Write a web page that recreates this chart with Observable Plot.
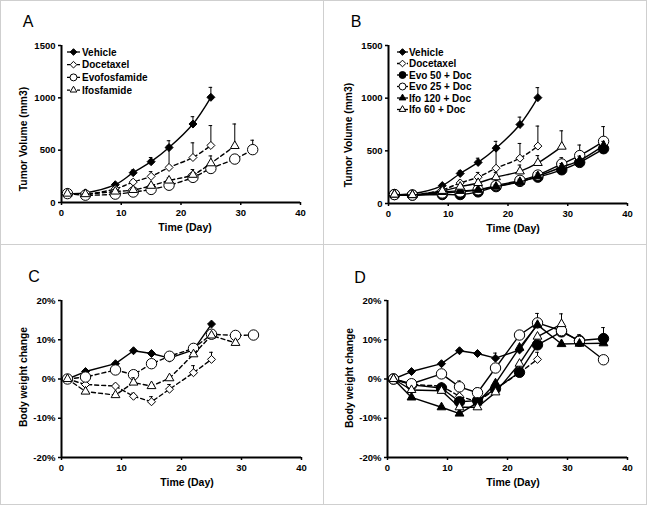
<!DOCTYPE html>
<html><head><meta charset="utf-8">
<script src="https://cdn.jsdelivr.net/npm/d3@7"></script>
<script src="https://cdn.jsdelivr.net/npm/@observablehq/plot@0.6"></script>
<style>
body{margin:0;background:#fff;}
#fig{position:relative;width:648px;height:506px;overflow:hidden;font-family:"Liberation Sans",Arial,sans-serif;}
.cell{position:absolute;}
.ln{position:absolute;background:#cfcfcf;z-index:3;}
</style></head><body><div id="fig"></div>
<script>
// ---------- DATA ----------
const days8 = [1,4,9,12,15,18,22,25];
const days9 = [1,4,9,12,15,18,22,25,29];
const days10 = [1,4,9,12,15,18,22,25,29,32];
const days11 = [1,4,9,12,15,18,22,25,29,32,36];

// Tumor volume (mm3)
const tvVehicle = [85,92,170,285,390,525,750,1005];
const tvVehicleErr = [0,0,12,25,40,20,70,95];
const tvDocetaxel = [85,80,130,195,250,335,430,545];
const tvDocetaxelErr = [0,0,10,25,45,255,140,190];
const tvEvofosfamide = [85,70,80,100,125,165,240,325,415,505];
const tvEvofosfamideErr = [0,0,0,10,10,15,20,25,35,90];
const tvIfosfamide = [85,80,105,120,160,210,265,375,540];
const tvIfosfamideErr = [0,0,0,15,20,25,50,70,210];
const tvEvo50Doc = [85,80,85,85,110,160,210,250,320,390,520];
const tvEvo50DocErr = [0,0,0,0,0,10,15,20,25,30,40];
const tvEvo25Doc = [85,80,100,110,130,170,220,270,375,455,590];
const tvEvo25DocErr = [0,0,0,10,15,20,25,30,60,100,140];
const tvIfo120Doc = [85,80,110,120,130,160,205,260,345,410,550];
const tvIfo120DocErr = [0,0,0,10,15,20,25,30,35,40,40];
const tvIfo60Doc = [85,80,120,160,195,250,305,385,540];
const tvIfo60DocErr = [0,0,10,20,30,45,60,70,150];

// Body weight change (%)
const bwVehicle = [0,1.9,3.9,7.2,6.5,5.3,7.4,14.0];
const bwVehicleErr = [0,0,0,0,0,1.3,0,0];
const bwDocetaxel = [0,-1.4,-1.8,-4.4,-5.8,-2.6,1.6,5.0];
const bwDocetaxelErr = [0,0,0.5,0.8,1.3,1.2,1.8,1.8];
const bwEvofosfamide = [0,0.5,2.3,1.1,3.9,5.8,7.8,11.4,11.1,11.2];
const bwEvofosfamideErr = [0,0,0,0,0,0,0,0,0,0];
const bwIfosfamide = [0,-3.2,-4.1,-0.9,-1.8,0.2,6.3,11.1,9.2];
const bwIfosfamideErr = [0,0,0,1.2,0,0,0,0,0];
const bwEvo50Doc = [0,-1.5,-2.3,-5.8,-5.5,-2.5,1.7,8.7,12.0,9.8,10.3];
const bwEvo50DocErr = [0,0,0,0,0,0,0,0,0,1.5,2.8];
const bwEvo25Doc = [0,-1.2,1.3,-2.0,-3.5,2.8,11.2,14.3,12.3,9.6,4.9];
const bwEvo25DocErr = [0,0,0,1.5,1.2,0,0,2.4,0,0,0];
const bwIfo120Doc = [0,-4.7,-7.2,-8.8,-6.0,-1.1,8.0,13.8,8.9,9.0,9.1];
const bwIfo120DocErr = [0,0,0,0,0,0,0,0,0,0,0];
const bwIfo60Doc = [0,-2.8,-3.0,-7.2,-7.2,-3.4,3.9,10.8,14.0,9.9,9.6];
const bwIfo60DocErr = [0,0,1.0,0,0,0,0,0,2.6,0,0];

const xTicks = [0,10,20,30,40];
const tvTicks = [0,500,1000,1500];
const bwTicks = [-20,-10,0,10,20];

// ---------- STYLE ----------
const FONT = "Liberation Sans, Arial, sans-serif";
const ST = {
  vehicle:{sym:"diamond2", fill:"#000", dash:false, r:3.6},
  doce:{sym:"diamond2", fill:"#fff", dash:true, r:3.6},
  openCircDash:{sym:"circle", fill:"#fff", dash:true, r:5.2},
  openTriDash:{sym:"triangle2", fill:"#fff", dash:true, r:4.2},
  filledCirc:{sym:"circle", fill:"#000", dash:false, r:5.2},
  openCirc:{sym:"circle", fill:"#fff", dash:false, r:5.2},
  filledTri:{sym:"triangle2", fill:"#000", dash:false, r:4.2},
  openTri:{sym:"triangle2", fill:"#fff", dash:false, r:4.2}
};

const seriesA = [
  {name:"Vehicle", day:days8, val:tvVehicle, err:tvVehicleErr, st:ST.vehicle},
  {name:"Docetaxel", day:days8, val:tvDocetaxel, err:tvDocetaxelErr, st:ST.doce},
  {name:"Evofosfamide", day:days10, val:tvEvofosfamide, err:tvEvofosfamideErr, st:ST.openCircDash},
  {name:"Ifosfamide", day:days9, val:tvIfosfamide, err:tvIfosfamideErr, st:ST.openTriDash}
];
const seriesB = [
  {name:"Vehicle", day:days8, val:tvVehicle, err:tvVehicleErr, st:ST.vehicle},
  {name:"Docetaxel", day:days8, val:tvDocetaxel, err:tvDocetaxelErr, st:ST.doce},
  {name:"Evo 50 + Doc", day:days11, val:tvEvo50Doc, err:tvEvo50DocErr, st:ST.filledCirc},
  {name:"Evo 25 + Doc", day:days11, val:tvEvo25Doc, err:tvEvo25DocErr, st:ST.openCirc},
  {name:"Ifo 120 + Doc", day:days11, val:tvIfo120Doc, err:tvIfo120DocErr, st:ST.filledTri},
  {name:"Ifo 60 + Doc", day:days9, val:tvIfo60Doc, err:tvIfo60DocErr, st:ST.openTri}
];
const seriesC = [
  {name:"Vehicle", day:days8, val:bwVehicle, err:bwVehicleErr, st:ST.vehicle},
  {name:"Docetaxel", day:days8, val:bwDocetaxel, err:bwDocetaxelErr, st:ST.doce},
  {name:"Evofosfamide", day:days10, val:bwEvofosfamide, err:bwEvofosfamideErr, st:ST.openCircDash},
  {name:"Ifosfamide", day:days9, val:bwIfosfamide, err:bwIfosfamideErr, st:ST.openTriDash}
];
const seriesD = [
  {name:"Vehicle", day:days8, val:bwVehicle, err:bwVehicleErr, st:ST.vehicle},
  {name:"Docetaxel", day:days8, val:bwDocetaxel, err:bwDocetaxelErr, st:ST.doce},
  {name:"Evo 50 + Doc", day:days11, val:bwEvo50Doc, err:bwEvo50DocErr, st:ST.filledCirc},
  {name:"Evo 25 + Doc", day:days11, val:bwEvo25Doc, err:bwEvo25DocErr, st:ST.openCirc},
  {name:"Ifo 120 + Doc", day:days11, val:bwIfo120Doc, err:bwIfo120DocErr, st:ST.filledTri},
  {name:"Ifo 60 + Doc", day:days9, val:bwIfo60Doc, err:bwIfo60DocErr, st:ST.openTri}
];

const symMap = {diamond2:d3.symbolDiamond2, circle:d3.symbolCircle, triangle2:d3.symbolTriangle2};

function panel(o) {
  const marks = [
    Plot.axisX({ticks:xTicks, tickSize:3, tickPadding:4, strokeWidth:1.5, label:null, tickFormat:d=>String(d)}),
    Plot.axisY({ticks:o.yTicks, tickSize:3, tickPadding:3, strokeWidth:1.5, label:null, tickFormat:o.yFmt}),
    Plot.ruleX([0], {y1:o.yDomain[0], y2:o.yDomain[1], stroke:"#000", strokeWidth:2}),
    Plot.ruleY([o.yDomain[0]], {x1:0, x2:40, stroke:"#000", strokeWidth:2})
  ];
  for (const s of o.series) {
    const rows = s.day.map((d,i)=>({day:d, v:s.val[i], e:s.err[i]}));
    const eRows = rows.filter(r=>r.e>0);
    marks.push(Plot.ruleX(eRows, {x:"day", y1:"v", y2:r=>r.v+r.e, stroke:"#000", strokeWidth:1}));
    marks.push(Plot.ruleY(eRows, {y:r=>r.v+r.e, x1:r=>r.day-0.3, x2:r=>r.day+0.3, stroke:"#000", strokeWidth:1}));
    marks.push(Plot.line(rows, {x:"day", y:"v", curve:o.curve, stroke:"#000", strokeWidth:1.4,
      strokeDasharray: s.st.dash ? "4,3" : null}));
    marks.push(Plot.dot(rows, {x:"day", y:"v", symbol:s.st.sym, r:s.st.r, fill:s.st.fill, stroke:"#000", strokeWidth:1}));
  }
  const svg = Plot.plot({
    width:o.w, height:o.h,
    marginLeft:o.m[3], marginRight:o.m[1], marginTop:o.m[0], marginBottom:o.m[2],
    x:{domain:[0,40]}, y:{domain:o.yDomain},
    style:{fontFamily:FONT, fontSize:"9.5px", fontWeight:"bold", color:"#000", background:"transparent", overflow:"visible"},
    marks
  });
  const g = d3.select(svg);
  g.append("text").attr("x", o.letterPos[0]).attr("y", o.letterPos[1])
    .attr("text-anchor","middle").attr("dominant-baseline","central")
    .style("font-size","16px").style("font-weight","normal").style("font-family",FONT).attr("fill","#000").text(o.letter);
  g.append("text").attr("x", o.xTitlePos[0]).attr("y", o.xTitlePos[1])
    .attr("text-anchor","middle").attr("dominant-baseline","central")
    .style("font-size","10.5px").style("font-weight","bold").style("font-family",FONT).attr("fill","#000").text("Time (Day)");
  g.append("text").attr("transform", `translate(${o.yTitlePos[0]},${o.yTitlePos[1]}) rotate(-90)`)
    .attr("text-anchor","middle").attr("dominant-baseline","central")
    .style("font-size","10.3px").style("font-weight","bold").style("font-family",FONT).attr("fill","#000").text(o.yLabel);
  if (o.legend) {
    const L = o.legend;
    o.series.forEach((s,i)=>{
      const y = L.y0 + i*L.dy;
      const lg = g.append("g");
      lg.append("line").attr("x1",L.x0).attr("x2",L.x1).attr("y1",y).attr("y2",y)
        .attr("stroke","#000").attr("stroke-width",1.3).attr("stroke-dasharray", s.st.dash ? "3,2" : null);
      const sz = s.st.sym==="circle" ? 38 : (s.st.sym==="triangle2" ? 32 : 28);
      lg.append("path").attr("transform",`translate(${(L.x0+L.x1)/2},${y})`)
        .attr("d", d3.symbol(symMap[s.st.sym], sz)()).attr("fill", s.st.fill).attr("stroke","#000").attr("stroke-width",1);
      lg.append("text").attr("x", L.tx).attr("y", y).attr("dominant-baseline","central")
        .attr("text-anchor","start")
        .style("font-size","10px").style("font-weight","bold").style("font-family",FONT).attr("fill","#000").text(s.name);
    });
  }
  return svg;
}

const fig = document.getElementById("fig");
function place(svg, left, top) {
  const d = document.createElement("div");
  d.className = "cell"; d.style.left = left+"px"; d.style.top = top+"px";
  d.appendChild(svg); fig.appendChild(d);
}

const tvFmt = d => String(d);
const bwFmt = d => d + "%";

place(panel({series:seriesA, yDomain:[0,1500], yTicks:tvTicks, yFmt:tvFmt, curve:"catmull-rom",
  w:323, h:245, m:[45,23,43,61], letter:"A", letterPos:[28,21], xTitlePos:[185,227], yTitlePos:[23,139],
  yLabel:"Tumor Volume (mm3)", legend:{x0:67,x1:80,tx:82,y0:52,dy:12.7}}), 0, 0);

place(panel({series:seriesB, yDomain:[0,1500], yTicks:tvTicks, yFmt:tvFmt, curve:"catmull-rom",
  w:323, h:245, m:[45,20,42,64], letter:"B", letterPos:[32,21], xTitlePos:[189,228], yTitlePos:[24,135],
  yLabel:"Tumor Volume (mm3)", legend:{x0:73,x1:84,tx:85,y0:52,dy:11.5}}), 324, 0);

place(panel({series:seriesC, yDomain:[-20,20], yTicks:bwTicks, yFmt:bwFmt, curve:"linear",
  w:323, h:260, m:[55,22,48,61], letter:"C", letterPos:[34,31], xTitlePos:[187,237], yTitlePos:[23,132],
  yLabel:"Body weight change", legend:null}), 0, 245);

place(panel({series:seriesD, yDomain:[-20,20], yTicks:bwTicks, yFmt:bwFmt, curve:"linear",
  w:323, h:260, m:[55,20,48,63], letter:"D", letterPos:[36,32], xTitlePos:[189,237], yTitlePos:[25,133],
  yLabel:"Body weight change", legend:null}), 324, 245);

function ln(l,t,w,h){const d=document.createElement("div");d.className="ln";d.style.left=l+"px";d.style.top=t+"px";d.style.width=w+"px";d.style.height=h+"px";fig.appendChild(d);}
ln(0,0,647,1); ln(0,504,647,1); ln(0,0,1,505); ln(646,0,1,505);
ln(323,0,1,505); ln(0,244,647,1);
</script></body></html>
